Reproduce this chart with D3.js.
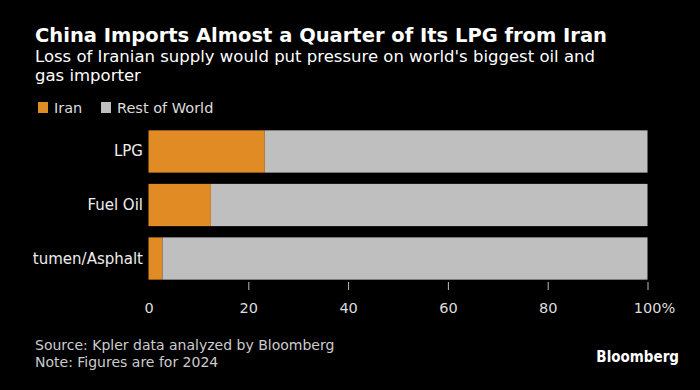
<!DOCTYPE html>
<html><head><meta charset="utf-8">
<script src="https://cdn.jsdelivr.net/npm/d3@7"></script>
<style>
html,body{margin:0;padding:0;background:#000;}
svg{display:block;}
</style></head>
<body>
<svg id="c" width="700" height="390"></svg>
<script>
const categories = ["LPG", "Fuel Oil", "Bitumen/Asphalt"];
const iranValues = [23.3, 12.5, 2.8];
const restValues = [76.7, 87.5, 97.2];
const seriesNames = ["Iran", "Rest of World"];
const seriesColors = ["#E08B24", "#BFBFBF"];
const tickValues = [0, 20, 40, 60, 80, 100];
const tickLabels = ["0", "20", "40", "60", "80", "100%"];

const svg = d3.select("#c");
svg.append("rect").attr("width",700).attr("height",390).attr("fill","#000");

const sans = "'DejaVu Sans',sans-serif";

svg.append("text").attr("x",35).attr("y",42)
  .attr("font-family",sans).attr("font-weight","bold")
  .attr("font-size",19.5).attr("fill","#fff")
  .text("China Imports Almost a Quarter of Its LPG from Iran");

const sub = ["Loss of Iranian supply would put pressure on world's biggest oil and","gas importer"];
sub.forEach((s,i)=>svg.append("text").attr("x",35).attr("y",62+i*19)
  .attr("font-family",sans).attr("font-size",16.5).attr("fill","#fff").text(s));

// legend
const legX = [38, 101];
seriesNames.forEach((n,i)=>{
  svg.append("rect").attr("x",legX[i]).attr("y",102).attr("width",10).attr("height",11).attr("fill",seriesColors[i]);
  svg.append("text").attr("x",legX[i]+16).attr("y",113)
    .attr("font-family",sans).attr("font-size",14.5).attr("fill","#ddd").text(n);
});

const x = d3.scaleLinear().domain([0,100]).range([148.5,647.5]);
const y = d3.scaleBand().domain(categories).range([125,285]).paddingInner(0.21).paddingOuter(0.1);

const data = categories.map((c,i)=>({cat:c, iran:iranValues[i], rest:restValues[i]}));
const stack = d3.stack().keys(["iran","rest"])(data);

svg.append("g").selectAll("g").data(stack).join("g")
  .attr("fill",(d,i)=>seriesColors[i])
  .selectAll("rect").data(d=>d).join("rect")
  .attr("x",d=>x(d[0])).attr("width",d=>x(d[1])-x(d[0]))
  .attr("y",d=>y(d.data.cat)).attr("height",y.bandwidth());

// category labels (clipped at the left margin like the original)
svg.append("clipPath").attr("id","lblclip").append("rect")
  .attr("x",33).attr("y",120).attr("width",120).attr("height",170);
svg.append("g").attr("clip-path","url(#lblclip)").selectAll("text").data(categories).join("text")
  .attr("x",143).attr("y",d=>y(d)+y.bandwidth()/2+5)
  .attr("text-anchor","end").attr("font-family",sans).attr("font-size",15)
  .attr("fill","#eee").text(d=>d);

// x axis
const ax = svg.append("g").attr("transform","translate(0,282)")
  .call(d3.axisBottom(x).tickValues(tickValues).tickSize(8).tickFormat((d,i)=>tickLabels[i]));
ax.select(".domain").remove();
ax.selectAll(".tick line").attr("stroke","#bbb").filter(d=>d===0).remove();
ax.selectAll(".tick text").attr("font-family",sans).attr("font-size",14.5).attr("fill","#ddd").attr("dy","1.4em");
ax.selectAll(".tick text").filter(d=>d===100).attr("dx","0.45em");

// footer
["Source: Kpler data analyzed by Bloomberg","Note: Figures are for 2024"].forEach((s,i)=>
  svg.append("text").attr("x",35).attr("y",350+i*17).attr("font-family",sans)
    .attr("font-size",14).attr("fill","#ccc").text(s));
svg.append("text").attr("x",679).attr("y",362).attr("text-anchor","end")
  .attr("font-family","'DejaVu Sans Condensed','Liberation Sans',sans-serif").attr("font-weight","bold")
  .attr("font-size",15).attr("fill","#fff").text("Bloomberg");
</script>
</body></html>
